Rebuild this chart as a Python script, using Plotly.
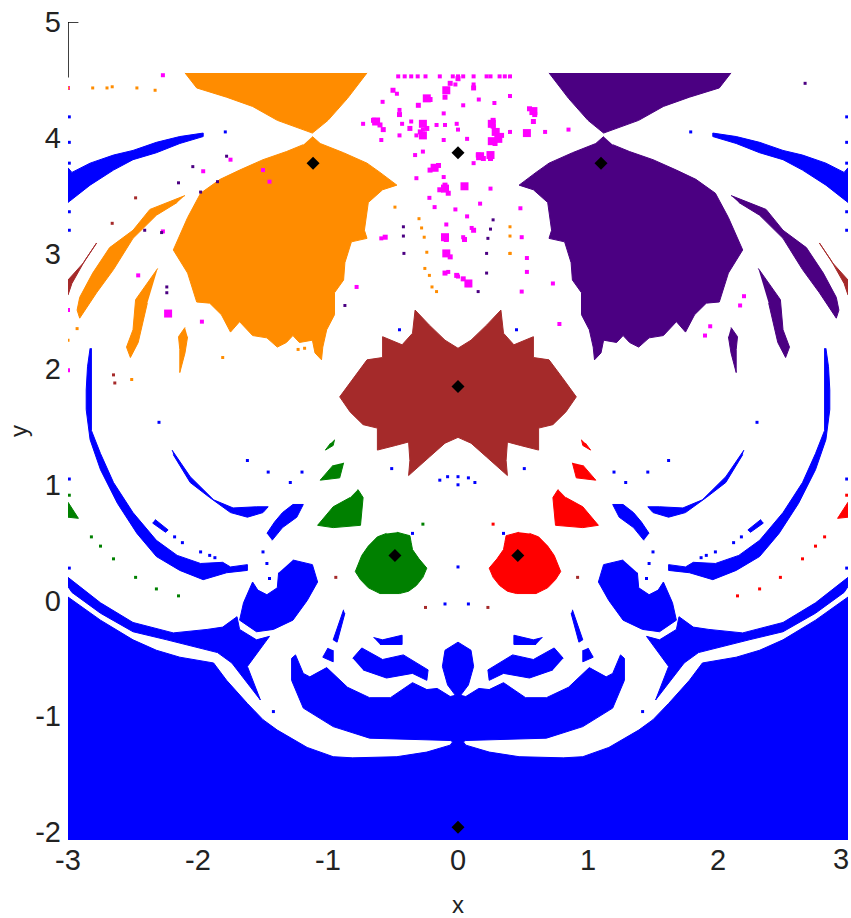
import plotly.graph_objects as go

ORANGE, INDIGO, BROWN, BLUE, GREEN, RED, MAGENTA = "#FF8C00", "#4B0082", "#A52A2A", "#0000FF", "#008000", "#FF0000", "#FF00FF"

# ---- basin outlines (left half; right half is the mirror) ----
wedge_x = [-2.10,-2.01,-1.78,-1.58,-1.39,-1.22,-1.12,-1.0,-0.85,-0.70]
wedge_y = [4.56,4.43,4.35,4.27,4.15,4.08,4.04,4.15,4.34,4.56]
main_x = [-1.12,-1.06,-0.88,-0.70,-0.60,-0.47,-0.58,-0.69,-0.72,-0.70,-0.82,-0.87,-0.88,-0.95,-0.95,-1.01,-1.04,-1.05,-1.10,-1.12,-1.22,-1.27,-1.32,-1.39,-1.47,-1.58,-1.68,-1.75,-1.82,-1.91,-2.01,-2.08,-2.19,-2.08,-1.98,-1.83,-1.68,-1.50,-1.32,-1.19]
main_y = [4.01,3.95,3.87,3.78,3.70,3.59,3.55,3.44,3.20,3.13,3.10,2.92,2.77,2.66,2.47,2.34,2.19,2.08,2.14,2.25,2.23,2.29,2.23,2.19,2.27,2.29,2.41,2.32,2.47,2.57,2.58,2.83,3.03,3.31,3.52,3.64,3.72,3.81,3.88,3.94]
streak1_x = [-2.10,-2.24,-2.37,-2.50,-2.68,-2.81,-2.91,-2.93,-2.91,-2.78,-2.65,-2.50,-2.32,-2.16]
streak1_y = [3.50,3.44,3.38,3.20,3.05,2.83,2.62,2.51,2.44,2.66,2.86,3.13,3.33,3.44]
streak2_x = [-2.31,-2.48,-2.50,-2.55,-2.52,-2.46,-2.39]
streak2_y = [2.87,2.60,2.34,2.19,2.10,2.23,2.57]
streak3_x = [-2.10,-2.15,-2.14,-2.14,-2.10,-2.08]
streak3_y = [2.36,2.28,2.17,1.97,2.14,2.28]
tail_x = [-3,-2.88,-2.78,-2.87,-2.97,-3]
tail_y = [2.77,2.92,3.09,2.94,2.74,2.64]
centre_x = [0,-0.10,-0.22,-0.33,-0.35,-0.43,-0.58,-0.58,-0.70,-0.80,-0.91,-0.83,-0.73,-0.62,-0.62,-0.48,-0.38,-0.37,-0.38,-0.22,-0.10,0]
centre_y = [2.18,2.25,2.38,2.51,2.31,2.21,2.28,2.10,2.08,1.93,1.76,1.63,1.52,1.49,1.30,1.34,1.37,1.21,1.08,1.24,1.36,1.41]
g1_x = [-0.47,-0.37,-0.36,-0.35,-0.30,-0.24,-0.27,-0.32,-0.38,-0.45,-0.60,-0.69,-0.75,-0.79,-0.74,-0.69,-0.62,-0.55]
g1_y = [0.59,0.56,0.50,0.44,0.36,0.28,0.20,0.13,0.08,0.06,0.06,0.11,0.18,0.25,0.39,0.47,0.55,0.58]
g2_x = [-0.77,-0.73,-0.75,-0.96,-1.08,-0.96,-0.83]
g2_y = [0.96,0.89,0.65,0.63,0.65,0.81,0.89]
g3_x = [-0.88,-0.91,-1.06,-0.96]
g3_y = [1.19,1.06,1.04,1.17]
g4_x = [-0.95,-0.96,-1.02,-0.98]
g4_y = [1.39,1.34,1.30,1.36]
g5_x = [-3,-2.92,-3]
g5_y = [0.85,0.71,0.72]
# blue
top_x = [-3,-2.97,-2.83,-2.65,-2.50,-2.32,-2.14,-1.96,-1.96,-2.14,-2.32,-2.50,-2.65,-2.83,-3]
top_y = [3.74,3.70,3.78,3.85,3.89,3.96,4.01,4.04,4.01,3.95,3.87,3.81,3.72,3.59,3.44]
arc_x = [-2.83,-2.85,-2.86,-2.86,-2.83,-2.75,-2.62,-2.47,-2.32,-2.14,-1.96,-1.78,-1.62,-1.62,-1.75,-1.81,-1.98,-2.16,-2.32,-2.50,-2.65,-2.75,-2.82,-2.82,-2.82]
arc_y = [2.18,2.02,1.82,1.65,1.39,1.13,0.84,0.58,0.38,0.26,0.18,0.24,0.26,0.31,0.29,0.33,0.32,0.39,0.52,0.76,1.02,1.27,1.47,1.73,2.18]
inner_x = [-2.20,-2.06,-1.88,-1.73,-1.55,-1.46,-1.50,-1.62,-1.75,-1.91,-2.06,-2.19]
inner_y = [1.30,1.07,0.87,0.80,0.81,0.81,0.76,0.72,0.76,0.89,1.02,1.26]
short_x = [-2.33,-2.23,-2.25,-2.35]
short_y = [0.70,0.61,0.59,0.67]
blob_x = [-1.47,-1.41,-1.35,-1.27,-1.19,-1.24,-1.35,-1.43]
blob_y = [0.58,0.68,0.76,0.83,0.83,0.72,0.63,0.52]
bean_x = [-1.27,-1.12,-1.08,-1.16,-1.27,-1.42,-1.55,-1.68,-1.65,-1.58,-1.54,-1.47,-1.39,-1.38]
bean_y = [0.35,0.31,0.16,0,-0.17,-0.25,-0.27,-0.17,-0.02,0.16,0.09,0.05,0.11,0.24]
band_x = [-3,-2.75,-2.50,-2.19,-1.93,-1.81,-1.70,-1.68,-1.55,-1.45,-1.62,-1.52,-1.74,-1.85,-2.24,-2.50,-2.75,-2.97,-3]
band_y = [0.20,-0.02,-0.19,-0.28,-0.25,-0.23,-0.14,-0.25,-0.34,-0.31,-0.57,-0.86,-0.54,-0.45,-0.34,-0.27,-0.11,0.07,0.12]
floor_x = [0,-3,-3,-2.75,-2.50,-2.32,-2.14,-1.88,-1.78,-1.62,-1.50,-1.39,-1.16,-0.96,-0.81,-0.47,-0.24,-0.06,-0.04,-0.06,-0.68,-0.96,-1.19,-1.28,-1.28,-1.25,-1.19,-1.14,-1.01,-0.85,-0.68,-0.52,-0.35,-0.24,-0.16,-0.06,-0.02,-0.08,-0.12,-0.10,0]
floor_y = [-2.07,-2.07,0.03,-0.17,-0.34,-0.43,-0.49,-0.54,-0.69,-0.89,-1.03,-1.12,-1.27,-1.35,-1.36,-1.35,-1.31,-1.25,-1.22,-1.21,-1.19,-1.09,-0.93,-0.69,-0.50,-0.47,-0.63,-0.66,-0.58,-0.75,-0.84,-0.84,-0.71,-0.77,-0.76,-0.83,-0.82,-0.73,-0.57,-0.43,-0.36]
rib1_x = [-0.81,-0.74,-0.58,-0.42,-0.23,-0.24,-0.35,-0.55,-0.73]
rib1_y = [-0.50,-0.41,-0.51,-0.47,-0.60,-0.69,-0.63,-0.67,-0.60]
rib2_x = [-0.65,-0.58,-0.43,-0.43,-0.60]
rib2_y = [-0.32,-0.34,-0.30,-0.38,-0.38]
rib3_x = [-0.88,-0.96,-0.93,-0.87]
rib3_y = [-0.08,-0.34,-0.36,-0.11]
rib4_x = [-1.0,-1.04,-0.96,-0.96]
rib4_y = [-0.41,-0.49,-0.53,-0.43]

# ---- isolated specks ----
mag_x = [-0.46,-0.41,-0.36,-0.31,-0.25,-0.14,-0.04,0,0.04,0.12,0.22,0.25,0.32,0.36,0.40,-0.47,-0.45,-0.58,-0.73,-0.59,-0.43,-0.45,-0.36,-0.27,-0.32,-0.33,-0.27,-0.11,-0.02,0.12,-0.01,-0.10,-0.165,0,0.07,-0.11,0.16,0.28,0.04,0.40,0.40,0.12,-0.11,-0.32,-0.22,-0.18,-0.02,0.07,-0.09,0.105,0.04,-0.075,0,-0.59,-0.78,0.49,0.73,0.53,0.53,0.49,0.48,0.25,0.17,0.67,0.85,-1.75,-1.96,-2.46,-2.27,-3,-3,-3,-2.27,-1.97,2.17,1.90,1.94,2.20,-1.50,-1.45,0.78]
mag_y = [4.53,4.53,4.53,4.53,4.53,4.53,4.53,4.53,4.53,4.53,4.53,4.53,4.53,4.53,4.53,4.38,4.24,4.31,4.12,3.98,4.12,4.02,4.14,4.07,4.02,3.85,3.88,4.21,4.46,4.46,4.12,4.11,4.11,4.07,3.99,3.98,4.33,4.30,4.28,4.36,4.05,3.78,3.66,3.65,3.48,3.40,3.38,3.32,3.25,3.22,3.14,2.84,2.80,3.13,2.71,2.67,2.74,2.84,2.96,3.14,3.39,3.56,3.43,4.05,4.07,3.81,3.71,2.81,3.19,2.51,1.99,4.43,4.54,2.41,2.55,2.29,2.37,2.63,3.72,3.62,2.39]
mag2_x = [-0.50,-0.215,-0.305,-0.45,-0.65,-0.60,-0.575,-0.37,-0.29,-0.24,-0.06,0,-0.10,0.12,0.27,0.27,0.335,0.285,0.156,0.195,0.25,0.55,0.59,0.58,-0.10,-0.14,-0.075,-0.215,-0.15,0.12,-0.09,0.05,-0.06,-0.01,0.04,0.08,-0.10,-0.56]
mag2_y = [4.41,4.33,4.28,4.20,4.15,4.11,4.07,4.08,4.05,4.08,4.47,4.51,4.35,4.43,4.15,4.10,4.02,3.95,3.85,3.82,3.82,4.25,4.20,4.14,3.59,3.55,3.52,3.72,3.76,3.20,3.12,3.12,2.97,2.81,2.78,2.73,2.83,3.14]
magbig_x = [-0.63,-0.27,-0.24,-0.18,-0.09,0.26,0.58,0.53,0.31,0.26,0.25,0.17,-0.10,0.05,-0.10,-0.09,0.08,-2.23,-0.27,0.29]
magbig_y = [4.14,4.12,4.34,3.74,4.41,4.12,4.23,4.04,3.99,3.97,3.85,3.84,3.56,3.58,3.14,3.00,2.74,2.48,4.02,4.05]
ora_x = [-3,-2.81,-2.70,-2.66,-2.47,-2.33,-2.93,-3,-1.81,-2.51,-1.23,-1.18,-0.485,-0.30,-0.28,-0.26,-0.24,-0.255,-0.22,-0.20,-0.165,0.40,0.40,0.40,0.40]
ora_y = [4.43,4.43,4.43,4.44,4.43,4.41,2.35,2.25,2.10,1.91,2.17,2.18,3.40,3.30,3.22,3.14,3.01,2.87,2.81,2.71,2.67,3.23,3.15,3.00,3.00]
ind_x = [-1.78,-2.04,-2.15,-1.85,-1.98,-2.28,-2.41,-2.24,-2.24,-0.87,0.27,0.25,0.23,0.22,0.155,0.22,-0.42,-0.42,-0.416,2.67]
ind_y = [3.84,3.75,3.61,3.62,3.53,3.18,3.20,2.71,2.66,2.55,3.29,3.21,3.13,3.00,2.67,2.83,3.23,3.15,3.00,4.47]
blu_x = [-2.99,-2.99,-2.99,-2.99,-2.99,-1.79,-2.30,-1.62,-1.46,-1.29,-1.20,-0.51,-0.35,-1.50,-1.47,-1.45,-2.18,-2.12,-1.98,-1.91,-1.87,-2.99,-2.99,-0.45,-1.42]
blu_y = [4.18,3.96,3.78,3.36,3.20,4.05,1.54,1.21,1.11,1.02,1.11,1.14,0.58,0.42,0.32,0.19,0.55,0.50,0.42,0.39,0.37,0.28,1.05,2.34,-0.96]
blc_x = [0,-0.10,0.08,0,-0.14,0.08,0.13,-0.08,0]
blc_y = [0.29,-0.03,-0.03,1.07,1.04,1.06,1.02,1.07,1.00]
gre_x = [-2.82,-2.75,-2.65,-2.48,-2.32,-2.15,-2.99,-0.27]
gre_y = [0.55,0.47,0.36,0.20,0.10,0.04,0.91,0.66]
bro_x = [-2.65,-2.64,-2.66,-2.48,-0.94,0.92,-0.25,0.23]
bro_y = [1.95,1.88,3.26,3.48,0.20,0.20,-0.06,-0.06]
eq_x = [-1.115,1.10,0,0,-0.485,0.46,0]
eq_y = [3.78,3.78,3.87,1.85,0.39,0.39,-1.96]

x_ticks = [-3,-2,-1,0,1,2,3]
x_labels = ["-3","-2","-1","0","1","2",""]
last_x_label = "3"
y_ticks = [-2,-1,0,1,2,3,4,5]
x_range = [-3,3]
y_range = [-2.07,5]
corner_x = [-2.92,-3,-3]
corner_y = [5,5,4.52]

fig = go.Figure()
def poly(x, y, c):
    fig.add_trace(go.Scatter(x=x, y=y, mode="lines", fill="toself", fillcolor=c, line=dict(color=c, width=1), hoverinfo="skip", showlegend=False))
def both(x, y, c, c2=None):
    poly(x, y, c)
    poly([-v for v in x], y, c2 or c)
def dots(x, y, c, s=3, sym="square"):
    fig.add_trace(go.Scatter(x=x, y=y, mode="markers", marker=dict(color=c, size=s, symbol=sym, line=dict(width=0)), hoverinfo="skip", showlegend=False))

for px, py in [(wedge_x, wedge_y), (main_x, main_y), (streak1_x, streak1_y), (streak2_x, streak2_y), (streak3_x, streak3_y)]:
    both(px, py, ORANGE, INDIGO)
both(tail_x, tail_y, BROWN)
poly(centre_x + [-v for v in centre_x[::-1]], centre_y + centre_y[::-1], BROWN)
for px, py in [(g1_x, g1_y), (g2_x, g2_y), (g3_x, g3_y), (g4_x, g4_y), (g5_x, g5_y)]:
    both(px, py, GREEN, RED)
for px, py in [(top_x, top_y), (arc_x, arc_y), (inner_x, inner_y), (short_x, short_y), (blob_x, blob_y), (bean_x, bean_y), (band_x, band_y), (rib1_x, rib1_y), (rib2_x, rib2_y), (rib3_x, rib3_y), (rib4_x, rib4_y)]:
    both(px, py, BLUE)
poly(floor_x + [-v for v in floor_x[::-1]], floor_y + floor_y[::-1], BLUE)

dots(mag_x, mag_y, MAGENTA, 4)
dots(mag2_x, mag2_y, MAGENTA, 5)
dots(magbig_x, magbig_y, MAGENTA, 8)
dots(ora_x, ora_y, ORANGE, 3)
dots(ind_x, ind_y, INDIGO, 3)
dots(blu_x + [-v for v in blu_x], blu_y + blu_y, BLUE, 3)
dots(blc_x, blc_y, BLUE, 3)
dots(gre_x, gre_y, GREEN, 3)
dots([-v for v in gre_x], gre_y, RED, 3)
dots(bro_x, bro_y, BROWN, 3)
dots(eq_x, eq_y, "black", 10, "diamond")

font = dict(family="Liberation Sans, sans-serif", color="#222222")
fig.update_layout(
    width=851, height=918, autosize=False,
    margin=dict(l=68, r=3, t=22, b=78),
    paper_bgcolor="white", plot_bgcolor="white", showlegend=False,
    xaxis=dict(range=x_range, tickmode="array", tickvals=x_ticks, ticktext=x_labels, automargin=False,
               showgrid=False, zeroline=False, showline=False, ticks="", ticklabelstandoff=0,
               tickfont=dict(size=29, **font), title=dict(text="x", font=dict(size=24, **font), standoff=22)),
    yaxis=dict(range=y_range, tickmode="array", tickvals=y_ticks, ticktext=[str(v) for v in y_ticks], automargin=False,
               showgrid=False, zeroline=False, showline=False, ticks="", ticklabeloverflow="allow", ticklabelstandoff=6,
               tickfont=dict(size=29, **font), title=dict(text="y", font=dict(size=24, **font), standoff=0)),
    annotations=[dict(text=last_x_label, xref="x", yref="paper", x=x_range[1], y=0, xanchor="right", yanchor="top",
                      xshift=3, yshift=-1, showarrow=False, font=dict(size=29, **font))],
    shapes=[dict(type="line", x0=corner_x[i], y0=corner_y[i], x1=corner_x[i+1], y1=corner_y[i+1],
                 xref="x", yref="y", line=dict(color="black", width=1.5)) for i in range(2)],
)
fig.write_html("out.html", config={"displayModeBar": False}, post_script="document.body.style.margin='0';")
